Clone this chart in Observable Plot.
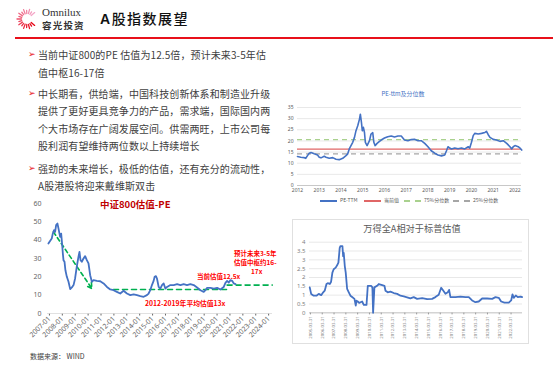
<!DOCTYPE html>
<html><head><meta charset="utf-8">
<script src="https://cdn.jsdelivr.net/npm/d3@7"></script>
<script src="https://cdn.jsdelivr.net/npm/@observablehq/plot@0.6"></script>
<style>
body{margin:0;width:553px;height:365px;overflow:hidden;background:#fff;position:relative;font-family:"Noto Sans CJK SC","Noto Sans",sans-serif}
.abs{position:absolute;white-space:nowrap;line-height:1}
.bullet{position:absolute;left:28px;font-size:10px;letter-spacing:0.1px;color:#404040;line-height:17.6px;white-space:nowrap}
.bullet .ar{position:absolute;left:0;color:#e8101a;font-family:"DejaVu Sans";font-size:9px}
.bullet .tx{margin-left:10px}
.ann{position:absolute;white-space:nowrap;line-height:1;color:#ff0000;font-weight:700;transform:translateY(-50%)}
.lg{position:absolute;top:197px;font-size:5px;color:#595959;line-height:6px;white-space:nowrap}
.lg i{display:inline-block;width:17px;vertical-align:middle;margin-right:3px}
</style></head><body>
<div id="hdr"></div>
<script>
// ---------- data ----------
const bullet1 = ["当前中证800的PE 估值为12.5倍，预计未来3-5年估", "值中枢16-17倍"];
const bullet2 = ["中长期看，供给端，中国科技创新体系和制造业升级", "提供了更好更具竞争力的产品，需求端，国际国内两", "个大市场存在广阔发展空间。供需两旺，上市公司每", "股利润有望维持两位数以上持续增长"];
const bullet3 = ["强劲的未来增长，极低的估值，还有充分的流动性，", "A股港股将迎来戴维斯双击"];

// PE-TTM (top right)
const peX = [2012.00,2012.15,2012.31,2012.38,2012.46,2012.54,2012.62,2012.77,2012.92,2013.00,2013.08,2013.23,2013.31,2013.46,2013.62,2013.77,2013.92,2014.08,2014.23,2014.31,2014.38,2014.46,2014.54,2014.62,2014.69,2014.77,2014.85,2014.89,2014.94,2014.98,2015.03,2015.08,2015.12,2015.20,2015.31,2015.38,2015.46,2015.51,2015.57,2015.66,2015.77,2015.85,2016.00,2016.15,2016.31,2016.46,2016.62,2016.77,2016.92,2017.08,2017.23,2017.38,2017.54,2017.69,2017.85,2018.00,2018.15,2018.31,2018.46,2018.62,2018.77,2018.85,2018.92,2019.00,2019.08,2019.23,2019.38,2019.54,2019.69,2019.85,2019.92,2020.00,2020.08,2020.15,2020.31,2020.46,2020.62,2020.69,2020.77,2020.85,2021.00,2021.15,2021.31,2021.46,2021.62,2021.77,2021.85,2021.92,2022.00,2022.15,2022.23,2022.31];
const peY = [13.0,12.7,12.5,12.2,13.4,14.5,14.8,14.2,13.7,12.7,12.4,13.1,12.7,12.2,12.5,11.8,11.6,12.2,13.4,14.2,16.4,17.9,19.4,21.6,24.6,26.8,29.8,32.0,28.3,24.6,26.1,23.8,19.4,17.9,20.1,23.1,23.7,19.4,17.9,18.9,19.8,20.4,21.3,21.9,22.2,21.8,22.2,22.2,20.4,20.1,20.6,20.7,20.1,20.1,18.9,17.4,15.6,14.5,13.7,13.3,13.7,15.6,17.4,16.8,16.4,16.8,16.5,16.8,16.4,17.4,16.8,19.4,22.4,23.4,23.1,23.4,23.8,24.3,22.8,21.6,20.7,20.4,19.8,20.1,18.9,17.4,16.4,17.4,17.9,17.4,16.8,15.9];
const peCurrent = 16.3;
const pe75 = 20.6;
const pe25 = 14.2;
const peTicksX = [2012,2013,2014,2015,2016,2017,2018,2019,2020,2021,2022];
const peTicksY = [0,5,10,15,20,25,30,35];
const peLegend = ["PE-TTM","当前值","75%分位数","25%分位数"];

// CSI 800 PE (bottom left)
const csiX = [2006.92,2007.05,2007.18,2007.26,2007.36,2007.44,2007.52,2007.62,2007.70,2007.78,2007.83,2007.91,2007.98,2008.04,2008.09,2008.17,2008.24,2008.35,2008.48,2008.61,2008.74,2008.87,2008.99,2009.12,2009.25,2009.33,2009.41,2009.51,2009.64,2009.77,2009.90,2010.03,2010.16,2010.29,2010.42,2010.68,2010.94,2011.20,2011.46,2011.72,2011.97,2012.23,2012.49,2012.75,2013.01,2013.27,2013.53,2013.79,2014.05,2014.31,2014.56,2014.69,2014.82,2014.95,2015.08,2015.16,2015.26,2015.34,2015.47,2015.60,2015.73,2015.86,2015.99,2016.12,2016.38,2016.64,2016.90,2017.16,2017.41,2017.67,2017.93,2018.19,2018.45,2018.71,2018.97,2019.10,2019.23,2019.49,2019.75,2020.01,2020.26,2020.52,2020.65,2020.78,2020.91,2021.04,2021.17,2021.30,2021.43];
const csiY = [38.2,39.6,40.9,43.6,45.5,44.5,48.2,49.1,46.4,43.6,41.8,43.6,38.2,32.7,29.1,28.2,23.6,20.0,17.3,13.3,14.2,15.5,19.1,25.5,30.9,33.6,29.1,28.2,30.0,31.3,29.1,27.3,20.9,17.3,18.2,17.8,17.6,16.4,14.5,13.1,12.7,11.8,10.9,12.4,10.9,10.0,10.4,10.0,9.5,9.1,10.0,10.9,12.7,15.5,17.8,20.0,20.4,19.1,14.5,13.6,15.5,16.4,13.6,14.5,15.5,15.5,16.0,15.5,16.0,15.5,16.0,15.5,14.2,12.7,11.8,12.7,14.0,14.0,13.6,14.0,13.1,14.5,16.7,17.8,16.9,18.2,17.8,16.4,16.0];
const csiAvgX = [2011.97, 2020.78];
const csiAvgY = [13.1, 13.1];
const csiTargetX = [2020.78, 2024.28];
const csiTargetY = [15.5, 15.5];
const csiTrend = [{x1: 2007.31, y1: 44.5, x2: 2010.29, y2: 13.6}];
const csiTicksX = [2007,2008,2009,2010,2011,2012,2013,2014,2015,2016,2017,2018,2019,2020,2021,2022,2023,2024];
const csiTicksY = [0,10,20,30,40,50,60];

// Wind All-A relative to S&P (bottom right)
const relX = [2004.94,2005.06,2005.28,2005.51,2005.70,2005.91,2006.08,2006.21,2006.36,2006.47,2006.64,2006.75,2006.86,2006.97,2007.14,2007.26,2007.37,2007.48,2007.54,2007.71,2007.77,2007.82,2007.91,2007.99,2008.11,2008.25,2008.39,2008.56,2008.73,2008.84,2008.90,2009.01,2009.13,2009.24,2009.38,2009.52,2009.75,2009.86,2010.14,2010.25,2010.31,2010.42,2010.65,2010.79,2011.08,2011.27,2011.36,2011.55,2011.78,2012.06,2012.35,2012.63,2012.91,2013.19,2013.47,2013.75,2014.04,2014.47,2014.89,2015.31,2015.59,2015.87,2016.08,2016.25,2016.44,2016.64,2016.75,2016.86,2017.29,2017.71,2018.14,2018.42,2018.70,2018.98,2019.26,2019.55,2019.97,2020.40,2020.68,2020.96,2021.16,2021.44,2021.81,2022.01,2022.12,2022.23,2022.40,2022.57,2022.80,2022.94];
const relY = [1.44,1.07,0.97,0.97,1.07,1.00,1.16,1.25,1.63,1.68,1.63,1.76,2.28,2.47,2.56,2.69,2.84,3.68,3.78,3.78,3.21,3.40,2.65,2.28,1.35,1.16,0.97,0.88,0.79,0.41,0.69,0.64,0.56,0.60,0.64,0.45,0.45,1.53,1.53,1.44,0,1.44,1.53,1.63,1.57,1.53,1.25,1.16,1.20,1.12,1.07,0.97,0.93,0.88,0.82,0.89,0.79,0.83,0.77,0.79,0.89,1.02,1.42,1.26,1.08,1.17,1.30,0.89,0.89,0.92,0.89,0.89,0.70,0.60,0.64,0.81,0.81,0.79,0.89,0.85,0.64,0.58,0.58,0.70,1.04,0.85,0.98,0.89,0.92,0.89];
const relTicksX = [2005,2006,2007,2008,2009,2010,2011,2012,2013,2014,2015,2016,2017,2018,2019,2020,2021,2022];
const relTicksY = [0,0.5,1,1.5,2,2.5,3,3.5,4];

// ---------- helpers ----------
const body = document.body;
function el(tag, cls, css, html, parent) {
  const e = document.createElement(tag);
  if (cls) e.className = cls;
  if (css) e.style.cssText = css;
  if (html != null) e.innerHTML = html;
  (parent || body).appendChild(e);
  return e;
}
const font = "'Noto Sans', 'Noto Sans CJK SC', sans-serif";

// ---------- header ----------
(function logo(){
  const ns = "http://www.w3.org/2000/svg";
  const s = document.createElementNS(ns, "svg");
  s.setAttribute("width", 30); s.setAttribute("height", 34);
  s.style.cssText = "position:absolute;left:12px;top:3px";
  const n = 17;
  for (let i = 0; i < n; i++) {
    const a = (40 + i * (280 / (n - 1))) * Math.PI / 180;
    const r1 = 5.5, r2 = 10 - (i % 2) * 1.5;
    const l = document.createElementNS(ns, "line");
    l.setAttribute("x1", 15 + r1 * Math.cos(a)); l.setAttribute("y1", 16 - r1 * Math.sin(a));
    l.setAttribute("x2", 15 + r2 * Math.cos(a)); l.setAttribute("y2", 16 - r2 * Math.sin(a));
    l.setAttribute("stroke", d3.interpolateRgb("#f4a6c8", "#e60012")(i / (n - 1)));
    l.setAttribute("stroke-width", 1.3); l.setAttribute("stroke-linecap", "round");
    s.appendChild(l);
  }
  body.appendChild(s);
})();
el("div", "abs", "left:42px;top:7px;font-family:'Liberation Serif','DejaVu Serif',serif;font-size:11px;color:#333", "Omnilux");
el("div", "abs", "left:42px;top:21px;font-size:9.5px;font-weight:700;color:#333;letter-spacing:1.2px", "容光投资");
el("div", "abs", "left:100px;top:11px;font-size:14px;color:#111;letter-spacing:1.5px;font-weight:500", "<b style='font-family:Liberation Sans,Arial;font-weight:700'>A</b>股指数展望");
el("div", null, "position:absolute;left:15px;top:37px;width:538px;height:1.5px;background:#e8101a");

// ---------- bullets ----------
function bullet(lines, top) {
  const b = el("div", "bullet", "top:" + top + "px");
  el("span", "ar", "top:0", "➢", b);
  lines.forEach(t => el("div", "tx", null, t, b));
}
bullet(bullet1, 46.2);
bullet(bullet2, 84.5);
bullet(bullet3, 159.5);

// ---------- top right: PE-ttm ----------
el("div", "abs", "left:403px;top:94px;transform:translate(-50%,-50%);font-size:6px;color:#4472c4", "PE-ttm及分位数");
const peData = d3.zip(peX, peY).map(([x, y]) => ({x, y}));
const pe = Plot.plot({
  width: 255, height: 95,
  marginLeft: 22, marginRight: 9, marginTop: 7, marginBottom: 10,
  style: {fontSize: "5px", color: "#595959", fontFamily: font, background: "transparent"},
  x: {domain: [2012, 2022.3], ticks: peTicksX, tickFormat: d => String(d), tickSize: 0, tickPadding: 3, label: null},
  y: {domain: [0, 35], ticks: peTicksY, tickSize: 0, tickPadding: 4, label: null},
  marks: [
    Plot.gridY(peTicksY, {stroke: "#d9d9d9", strokeOpacity: 1, strokeWidth: 0.6}),
    Plot.ruleY([0], {stroke: "#bfbfbf", strokeWidth: 0.8}),
    Plot.ruleY([pe75], {stroke: "#a9d18e", strokeDasharray: "5,4", strokeWidth: 1.3}),
    Plot.ruleY([pe25], {stroke: "#a6a6a6", strokeDasharray: "5,4", strokeWidth: 1.3}),
    Plot.ruleY([peCurrent], {stroke: "#e06666", strokeWidth: 1.3}),
    Plot.line(peData, {x: "x", y: "y", stroke: "#4472c4", strokeWidth: 1.6})
  ]
});
pe.style.cssText += ";position:absolute;left:275px;top:100px";
body.appendChild(pe);
// legend
const lgStyles = ["border-top:2px solid #4472c4", "border-top:2px solid #e06666", "border-top:2px dashed #a9d18e", "border-top:2px dashed #a6a6a6"];
const lgLeft = [320, 364, 404, 453];
peLegend.forEach((t, i) => el("div", "lg", "left:" + lgLeft[i] + "px", "<i style='" + lgStyles[i] + "'></i>" + t));

// ---------- bottom left: CSI 800 PE ----------
const blBox = el("div", null, "position:absolute;left:20px;top:195px;width:262px;height:150px;overflow:hidden");
const csiData = d3.zip(csiX, csiY).map(([x, y]) => ({x, y}));
const avgData = d3.zip(csiAvgX, csiAvgY).map(([x, y]) => ({x, y}));
const tgtData = d3.zip(csiTargetX, csiTargetY).map(([x, y]) => ({x, y}));
const csi = Plot.plot({
  width: 262, height: 150,
  marginLeft: 27, marginRight: 10, marginTop: 8, marginBottom: 32,
  style: {fontSize: "7px", color: "#666", fontFamily: font, background: "transparent", overflow: "visible"},
  x: {domain: [2006.85, 2024.3], ticks: csiTicksX, tickFormat: d => d + "-01", tickRotate: -45, tickSize: 2.5, tickPadding: 1.5, label: null},
  y: {domain: [0, 60], ticks: csiTicksY, tickSize: 0, tickPadding: 6, label: null},
  marks: [
    Plot.ruleY([0], {stroke: "#d9d9d9", strokeWidth: 0.8}),
    Plot.line(avgData, {x: "x", y: "y", stroke: "#00b050", strokeWidth: 1.6, strokeDasharray: "5,4"}),
    Plot.line(tgtData, {x: "x", y: "y", stroke: "#00b050", strokeWidth: 1.6, strokeDasharray: "5,4"}),
    Plot.arrow(csiTrend, {x1: "x1", y1: "y1", x2: "x2", y2: "y2", stroke: "#00b050", strokeWidth: 1.6, strokeDasharray: "4,3", headLength: 6, bend: 0}),
    Plot.line(csiData, {x: "x", y: "y", stroke: "#4472c4", strokeWidth: 1.8})
  ]
});
csi.style.cssText += ";position:absolute;left:0;top:0";
blBox.appendChild(csi);
el("div", "ann", "left:80px;top:9.5px;font-size:9.5px;color:#c00000", "中证800估值-PE", blBox);
el("div", "ann", "left:177px;top:81px;font-size:6.5px", "当前估值12.5x", blBox);
el("div", "ann", "left:214px;top:58px;font-size:6.5px", "预计未来3-5年", blBox);
el("div", "ann", "left:214px;top:67px;font-size:6.5px", "估值中枢约16-", blBox);
el("div", "ann", "left:231px;top:76px;font-size:6.5px", "17x", blBox);
el("div", "ann", "left:125px;top:108px;font-size:6.8px", "2012-2019年平均估值13x", blBox);

// ---------- bottom right: Wind All-A vs S&P ----------
el("div", null, "position:absolute;left:292px;top:219px;width:235px;height:123px;border:1px solid #e0e0e0");
el("div", "abs", "left:412px;top:229px;transform:translate(-50%,-50%);font-size:9.2px;color:#595959", "万得全A相对于标普估值");
const relData = d3.zip(relX, relY).map(([x, y]) => ({x, y}));
const rel = Plot.plot({
  width: 236, height: 107,
  marginLeft: 17, marginRight: 6, marginTop: 5.7, marginBottom: 30.7,
  style: {fontSize: "6px", color: "#7f7f7f", fontFamily: font, background: "transparent", overflow: "visible"},
  x: {domain: [2004.92, 2022.97], ticks: relTicksX, tickFormat: d => d + "-03-31", tickRotate: -90, tickSize: 2, tickPadding: 1.5, label: null},
  y: {domain: [0, 4], ticks: relTicksY, tickFormat: d => String(d), tickSize: 0, tickPadding: 4, label: null},
  marks: [
    Plot.gridY(relTicksY, {stroke: "#d9d9d9", strokeOpacity: 1, strokeWidth: 0.6}),
    Plot.ruleY([0], {stroke: "#bfbfbf", strokeWidth: 0.8}),
    Plot.line(relData, {x: "x", y: "y", stroke: "#4472c4", strokeWidth: 1.8})
  ]
});
rel.style.cssText += ";position:absolute;left:292px;top:236px";
body.appendChild(rel);
rel.querySelectorAll("g[aria-label='x-axis tick label'] text").forEach(t => t.setAttribute("font-size", "4.3px"));

// ---------- source ----------
el("div", "abs", "left:30px;top:353px;font-size:7px;color:#404040", "数据来源：&nbsp;WIND");
</script>
</body></html>
